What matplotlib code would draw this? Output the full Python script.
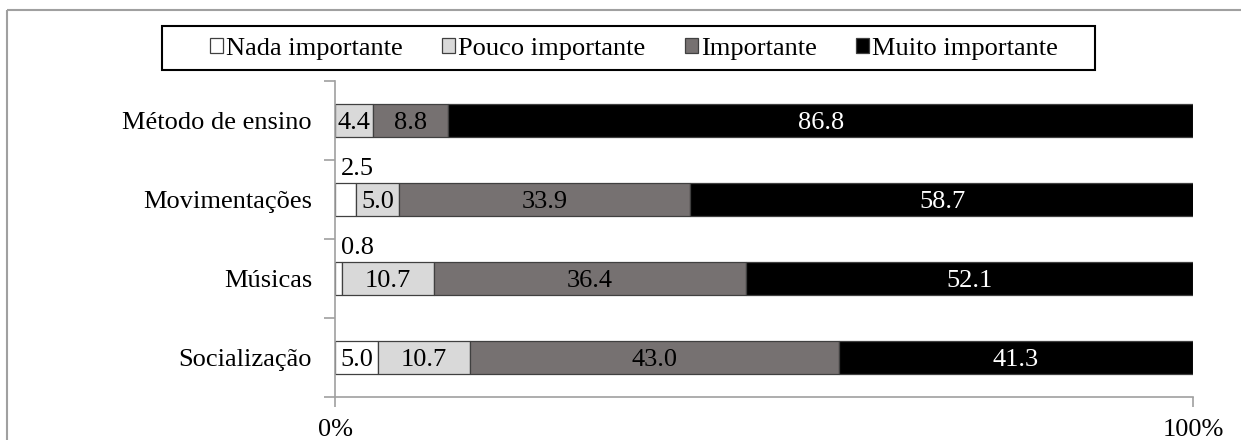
import matplotlib
matplotlib.use("Agg")
import matplotlib.pyplot as plt
from matplotlib.patches import Rectangle, Patch
import numpy as np

plt.rcParams['font.family'] = ['Liberation Serif', 'DejaVu Serif']

categories = ["Método de ensino", "Movimentações", "Músicas", "Socialização"]
series_names = ["Nada importante", "Pouco importante", "Importante", "Muito importante"]
nada = [0.0, 2.5, 0.8, 5.0]
pouco = [4.4, 5.0, 10.7, 10.7]
importante = [8.8, 33.9, 36.4, 43.0]
muito = [86.8, 58.7, 52.1, 41.3]
x_tick_labels = ["0%", "100%"]

series = [nada, pouco, importante, muito]
colors = ["#FFFFFF", "#D9D9D9", "#767171", "#000000"]
text_colors = ["#000000", "#000000", "#000000", "#FFFFFF"]
FS = 19

W, H = 1241, 440
fig = plt.figure(figsize=(W / 100, H / 100), dpi=100)


def fx(px):
    return px / W


def fy(py):
    return 1 - py / H


# outer frame
fig.patches.append(Rectangle((fx(7), fy(10)), 1.2, -1.2, transform=fig.transFigure,
                             fill=False, edgecolor="#A0A0A0", linewidth=1.5, zorder=0))

ax = fig.add_axes([fx(335), fy(397), fx(1193 - 335), (397 - 81) / H])

y = np.arange(len(categories))
left = np.zeros(len(categories))
for vals, c, tc in zip(series, colors, text_colors):
    vals = np.array(vals)
    ax.barh(y, vals / 100, left=left / 100, height=0.41, color=c,
            edgecolor="#404040", linewidth=0.9, zorder=2)
    for i, v in enumerate(vals):
        if v <= 0:
            continue
        if v < 4:
            ax.text(left[i] / 100 + 0.007, y[i] - 0.305, f"{v:.1f}", ha="left",
                    va="baseline", fontsize=FS, color="#000000")
        else:
            ax.text((left[i] + v / 2) / 100, y[i], f"{v:.1f}", ha="center",
                    va="center_baseline", fontsize=FS, color=tc, zorder=3)
    left += vals

ax.set_xlim(0, 1)
ax.set_ylim(len(categories) - 0.5, -0.5)
ax.set_yticks(y)
ax.set_yticklabels(categories, fontsize=FS)
ax.set_yticks(np.arange(-0.5, len(categories), 1), minor=True)
ax.tick_params(axis="y", which="major", length=0, pad=16.5)
ax.tick_params(axis="y", which="minor", length=8, color="#A0A0A0", width=1.2)
ax.set_xticks([0, 1])
ax.set_xticklabels(x_tick_labels, fontsize=FS)
ax.tick_params(axis="x", length=7, color="#A0A0A0", width=1.2, pad=9)

for s in ["top", "right"]:
    ax.spines[s].set_visible(False)
for s in ["left", "bottom"]:
    ax.spines[s].set_color("#A0A0A0")
    ax.spines[s].set_linewidth(1.2)

# legend box and entries
fig.patches.append(Rectangle((fx(162), fy(70)), fx(1095 - 162), (70 - 26) / H,
                             transform=fig.transFigure, fill=False,
                             edgecolor="#000000", linewidth=1.5))
handles = [Patch(facecolor=c, edgecolor="#404040", linewidth=0.9) for c in colors]
leg = fig.legend(handles, series_names, loc="center", bbox_to_anchor=(fx(634), fy(49)),
                 ncol=4, fontsize=FS, frameon=False, handlelength=0.5,
                 handleheight=0.5, handletextpad=0.1, columnspacing=1.5,
                 borderpad=0.0)

fig.savefig("out.png", dpi=100, facecolor="white")
